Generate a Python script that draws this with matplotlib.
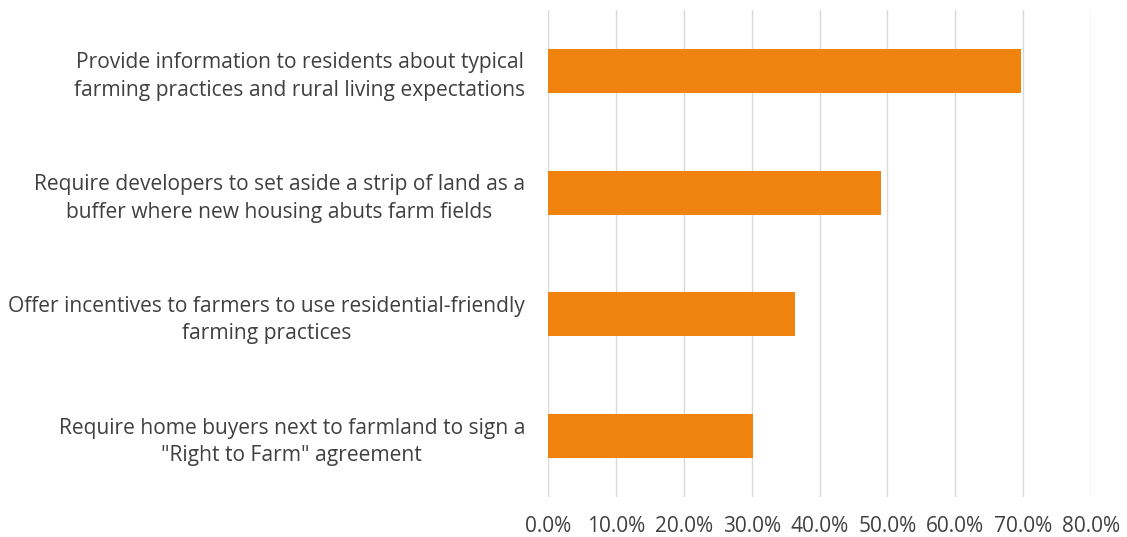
import matplotlib
matplotlib.use("Agg")
import matplotlib.pyplot as plt
from matplotlib.ticker import FuncFormatter

categories = [
    "Provide information to residents about typical\nfarming practices and rural living expectations",
    "Require developers to set aside a strip of land as a\nbuffer where new housing abuts farm fields",
    "Offer incentives to farmers to use residential-friendly\nfarming practices",
    "Require home buyers next to farmland to sign a\n\"Right to Farm\" agreement",
]
values = [69.7, 49.1, 36.4, 30.2]
xticks = [0, 10, 20, 30, 40, 50, 60, 70, 80]

plt.rcParams['font.family'] = ['Open Sans', 'DejaVu Sans']
fig = plt.figure(figsize=(11.27, 5.37), dpi=100)
ax = fig.add_axes([548/1127, 40/537, (1091-548)/1127, (497-10)/537])

pos = list(range(len(categories)))
ax.barh(pos, values, height=0.36, color="#F0820E", zorder=3)
ax.set_ylim(len(categories) - 0.5, -0.5)
ax.set_xlim(0, 80)
ax.set_xticks(xticks)
ax.xaxis.set_major_formatter(FuncFormatter(lambda v, p: f"{v:.1f}%"))
ax.set_yticks(pos)
ax.set_yticklabels(categories, multialignment="center", linespacing=1.4, fontsize=15.1)
ax.grid(axis="x", color="#D9D9D9", linewidth=1, zorder=0)
for s in ax.spines.values():
    s.set_visible(False)
ax.tick_params(axis="both", length=0, colors="#404040")
ax.tick_params(axis="x", pad=14, labelsize=15)
ax.tick_params(axis="y", pad=16.5)

fig.savefig("out.png", dpi=100)
